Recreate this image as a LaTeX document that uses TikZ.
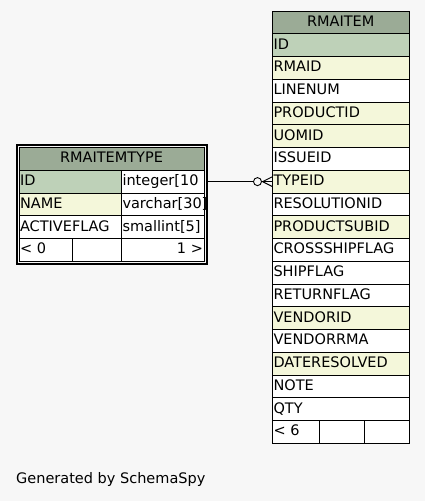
\documentclass[tikz,border=0pt]{standalone}
\usepackage{fontspec}
\setmainfont{DejaVu Sans}
\definecolor{bgc}{HTML}{F7F7F7}
\definecolor{hdc}{HTML}{9BAB96}
\definecolor{pkc}{HTML}{BED1B8}
\definecolor{ixc}{HTML}{F4F7DA}
\newcommand\tblfont{\fontsize{14.5}{16}\selectfont}
\tikzset{
  cell/.style={draw=black,fill=white,line width=0.9pt,anchor=north west,outer sep=0pt,
    inner xsep=1pt,inner ysep=0pt,minimum height=22.75pt,text height=10.6pt,text depth=2.8pt,
    align=left,font=\tblfont},
  rcell/.style={cell,text width=134.5pt},
  lcell/.style={cell,text width=100.5pt},
  tcell/.style={cell,text width=80.5pt},
}
\begin{document}
\begin{tikzpicture}[x=1pt,y=-1pt]
\fill[bgc] (0,0) rectangle (425,501);
% RMAITEM
\node[rcell,fill=hdc,align=center] (rmaitem) at (272.5,11) {RMAITEM};
\node[rcell,fill=pkc] (id) at (272.5,33.75) {ID};
\node[rcell,fill=ixc] (rmaid) at (272.5,56.5) {RMAID};
\node[rcell] (linenum) at (272.5,79.25) {LINENUM};
\node[rcell,fill=ixc] (productid) at (272.5,102) {PRODUCTID};
\node[rcell,fill=ixc] (uomid) at (272.5,124.75) {UOMID};
\node[rcell] (issueid) at (272.5,147.5) {ISSUEID};
\node[rcell,fill=ixc] (typeid) at (272.5,170.25) {TYPEID};
\node[rcell] (resolutionid) at (272.5,193) {RESOLUTIONID};
\node[rcell,fill=ixc] (productsubid) at (272.5,215.75) {PRODUCTSUBID};
\node[rcell] (crossshipflag) at (272.5,238.5) {CROSSSHIPFLAG};
\node[rcell] (shipflag) at (272.5,261.25) {SHIPFLAG};
\node[rcell] (returnflag) at (272.5,284) {RETURNFLAG};
\node[rcell,fill=ixc] (vendorid) at (272.5,306.75) {VENDORID};
\node[rcell] (vendorrma) at (272.5,329.5) {VENDORRMA};
\node[rcell,fill=ixc] (dateresolved) at (272.5,352.25) {DATERESOLVED};
\node[rcell] (note) at (272.5,375) {NOTE};
\node[rcell] (qty) at (272.5,397.75) {QTY};
\node[cell,text width=44.5pt] (rfoot1) at (272.5,420.5) {< 6};
\node[cell,text width=43.5pt] (rfoot2) at (319,420.5) {};
\node[cell,text width=42.5pt] (rfoot3) at (364.5,420.5) {};
% RMAITEMTYPE
\node[draw=black,line width=2pt,anchor=north west,outer sep=0pt,minimum width=190pt,minimum height=118.75pt] (rmaitemtype) at (16.5,145) {};
\node[cell,text width=183pt,fill=hdc,align=center] (thead) at (19,147.5) {RMAITEMTYPE};
\node[lcell,fill=pkc] (tid) at (19,170.25) {ID};
\node[tcell] (tidtype) at (121.5,170.25) {integer[10};
\node[lcell,fill=ixc] (tname) at (19,193) {NAME};
\node[tcell] (tnametype) at (121.5,193) {varchar[30]};
\node[lcell] (tflag) at (19,215.75) {ACTIVEFLAG};
\node[tcell] (tflagtype) at (121.5,215.75) {smallint[5]};
\node[cell,text width=51pt] (tfoot1) at (19,238.5) {< 0};
\node[cell,text width=47.5pt] (tfoot2) at (72,238.5) {};
\node[tcell,align=right] (tfoot3) at (121.5,238.5) {1 >};
% TYPEID -> ID
\coordinate (fend) at (typeid.west |- tid.center);
\coordinate (foot) at ([xshift=-10pt]fend);
\draw[line width=0.9pt] (rmaitemtype.east |- tid.center) -- (fend);
\draw[line width=0.9pt,fill=bgc] ([xshift=-5pt]foot) circle[radius=4pt];
\draw[line width=0.9pt] (foot) -- ([yshift=5pt]fend) (foot) -- ([yshift=-5pt]fend);
\node[anchor=base west,inner sep=0pt,font=\tblfont] (gen) at (16,483.5) {Generated by SchemaSpy};
\end{tikzpicture}
\end{document}
